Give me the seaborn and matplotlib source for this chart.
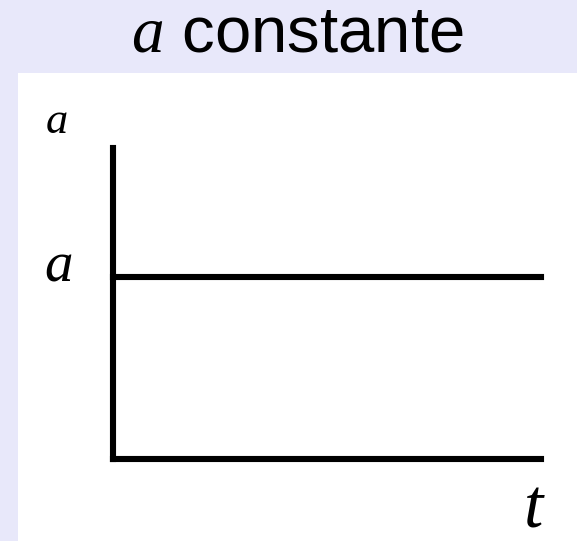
import matplotlib
matplotlib.use("Agg")
import matplotlib.pyplot as plt
import seaborn as sns
import pandas as pd
from matplotlib.patches import Rectangle

# Data
t_values = [0.0, 1.0]
a_values = [1.0, 1.0]
title_text = r"$\mathit{a}$ constante"
y_label = "a"
level_label = "a"
x_label = "t"

sns.set_style("white")
plt.rcParams["font.family"] = ["Liberation Sans", "DejaVu Sans"]
plt.rcParams["mathtext.fontset"] = "custom"
plt.rcParams["mathtext.it"] = "Liberation Serif:italic"
plt.rcParams["mathtext.rm"] = "Liberation Sans"

W, H = 577, 541
fig = plt.figure(figsize=(W / 100, H / 100), dpi=100, facecolor="#E8E8FA")

# white panel
fig.patches.append(Rectangle((18 / W, 0), 1 - 18 / W, (H - 73) / H,
                             transform=fig.transFigure, facecolor="white",
                             edgecolor="none", zorder=0))

left, right, top, bottom = 113, 541, 148, 459
ax = fig.add_axes([left / W, (H - bottom) / H, (right - left) / W, (bottom - top) / H])
ax.set_facecolor("none")
ax.set_zorder(3)

df = pd.DataFrame({"t": t_values, "a": a_values})
sns.lineplot(data=df, x="t", y="a", ax=ax, color="black", linewidth=4.4,
             solid_capstyle="projecting", clip_on=False)

frac = (bottom - 277) / (bottom - top)
ax.set_xlim(0, 1)
ax.set_ylim(0, 1 / frac)
for s in ["top", "right"]:
    ax.spines[s].set_visible(False)
for s in ["left", "bottom"]:
    ax.spines[s].set_linewidth(4.4)
    ax.spines[s].set_color("black")
    ax.spines[s].set_capstyle("projecting")
ax.set_xticks([])
ax.set_yticks([])
ax.set_xlabel("")
ax.set_ylabel("")

# title
fig.text(297 / W, 1 - 52 / H, title_text, ha="center", va="baseline",
         fontsize=47, color="black", zorder=5)

# labels
fig.text(57 / W, 1 - 133 / H, y_label, ha="center", va="baseline",
         fontsize=32, family="Liberation Serif", style="italic", color="black", zorder=5)
fig.text(59 / W, 1 - 281 / H, level_label, ha="center", va="baseline",
         fontsize=41, family="Liberation Serif", style="italic", color="black", zorder=5)
fig.text(534 / W, 1 - 527 / H, x_label, ha="center", va="baseline",
         fontsize=50, family="Liberation Serif", style="italic", color="black", zorder=5)

fig.savefig("out.png", dpi=100, facecolor=fig.get_facecolor())
